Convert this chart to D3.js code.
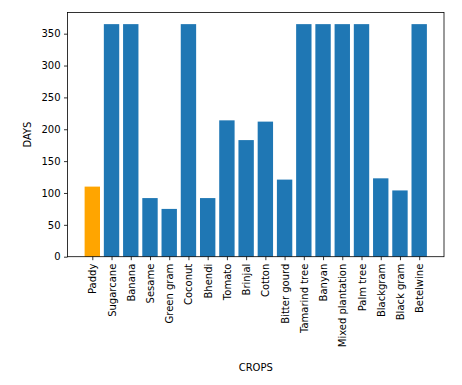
<!DOCTYPE html>
<html><head><meta charset="utf-8">
<script src="https://cdn.jsdelivr.net/npm/d3@7"></script>
<style>body{margin:0;background:#fff}svg{display:block}text{font-family:"DejaVu Sans",sans-serif}</style>
</head><body>
<script>
const crops = ["Paddy","Sugarcane","Banana","Sesame","Green gram","Coconut","Bhendi","Tomato","Brinjal","Cotton","Bitter gourd","Tamarind tree","Banyan","Mixed plantation","Palm tree","Blackgram","Black gram","Betelwine"];
const days = [110,365,365,92,75,365,92,214,183,212,121,365,365,365,365,123,104,365];
const colors = ["orange","#1f77b4","#1f77b4","#1f77b4","#1f77b4","#1f77b4","#1f77b4","#1f77b4","#1f77b4","#1f77b4","#1f77b4","#1f77b4","#1f77b4","#1f77b4","#1f77b4","#1f77b4","#1f77b4","#1f77b4"];
const yTicks = [0,50,100,150,200,250,300,350];

const W=462,H=385, L=67.5, R=444, T=12.5, B=256.7;
const svg=d3.select("body").append("svg").attr("width",W).attr("height",H);
const n=crops.length;
const x=d3.scaleLinear().domain([-0.4-0.05*(n-0.2),n-1+0.4+0.05*(n-0.2)]).range([L,R]);
const ymax=d3.max(days)*1.05;
const y=d3.scaleLinear().domain([0,ymax]).range([B,T]);

svg.append("g").selectAll("rect").data(days).join("rect")
 .attr("x",(d,i)=>x(i-0.4)).attr("width",(d,i)=>x(i+0.4)-x(i-0.4))
 .attr("y",d=>y(d)).attr("height",d=>B-y(d)).attr("fill",(d,i)=>colors[i]);

const ya=svg.append("g").attr("transform",`translate(${L},0)`)
 .call(d3.axisLeft(y).tickValues(yTicks).tickSize(3.5).tickPadding(3.5));
ya.select(".domain").remove();
ya.selectAll("text").attr("font-size",10).attr("fill","#000").attr("font-family","DejaVu Sans");
ya.selectAll("line").attr("stroke","#000").attr("stroke-width",0.8);

const xa=svg.append("g").attr("transform",`translate(0,${B})`)
 .call(d3.axisBottom(d3.scaleOrdinal().domain(crops).range(crops.map((c,i)=>x(i)))).tickSize(3.5).tickPadding(3.5));
xa.select(".domain").remove();
xa.selectAll("line").attr("stroke","#000").attr("stroke-width",0.8);
xa.selectAll("text").attr("font-size",10).attr("fill","#000").attr("font-family","DejaVu Sans")
 .attr("transform","rotate(-90)").attr("text-anchor","end").attr("x",-7).attr("y",0).attr("dy","0.35em");

svg.append("rect").attr("x",L).attr("y",T).attr("width",R-L).attr("height",B-T)
 .attr("fill","none").attr("stroke","#000").attr("stroke-width",0.8);

svg.append("text").attr("x",(L+R)/2).attr("y",371).attr("text-anchor","middle").attr("font-size",10).text("CROPS");
svg.append("text").attr("transform",`translate(31,${(T+B)/2}) rotate(-90)`).attr("text-anchor","middle").attr("font-size",10).text("DAYS");
</script>
</body></html>
